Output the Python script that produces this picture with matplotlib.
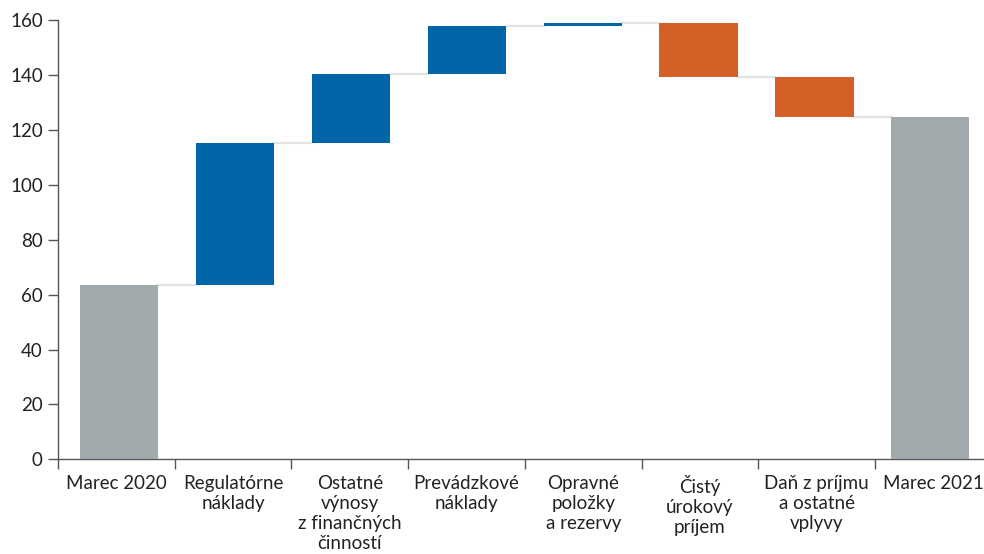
import numpy as np
import matplotlib.pyplot as plt
from matplotlib.ticker import FixedLocator

plt.rcParams['font.family'] = ['Lato', 'DejaVu Sans']

# Kategórie a zmeny
categories = ['Marec 2020', 'Regulatórne\nnáklady', 'Ostatné\nvýnosy\nz finančných\nčinností',
              'Prevádzkové\nnáklady', 'Opravné\npoložky\na rezervy', 'Čistý\núrokový\npríjem',
              'Daň z príjmu\na ostatné\nvplyvy', 'Marec 2021']
start_value = 63.4
deltas = [51.7, 25.2, 17.5, 1.1, -19.7, -14.6]

GRAY = '#a2a9ad'
BLUE = '#0066a8'
ORANGE = '#d36027'
CONN = '#e2e2e2'

# kumulatívne úrovne
levels = [start_value]
for d in deltas:
    levels.append(levels[-1] + d)
end_value = levels[-1]

bottoms, heights, colors = [0], [start_value], [GRAY]
for i, d in enumerate(deltas):
    bottoms.append(min(levels[i], levels[i + 1]))
    heights.append(abs(d))
    colors.append(BLUE if d > 0 else ORANGE)
bottoms.append(0)
heights.append(end_value)
colors.append(GRAY)

fig = plt.figure(figsize=(9.84, 5.54), dpi=100)
ax = fig.add_axes([58 / 984, 94.7 / 554, (991.7 - 58) / 984, 439 / 554])

x = np.arange(len(categories)) * 0.993 + 0.023
w = 0.67
ax.bar(x, heights, bottom=bottoms, width=w, color=colors, zorder=3)

# spojovacie čiary medzi stĺpcami
for i, lvl in enumerate(levels):
    ax.plot([x[i] + w / 2, x[i + 1] - w / 2], [lvl, lvl], color=CONN, lw=1.6, zorder=2)

ax.set_xlim(-0.5, len(categories) - 0.5)
ax.set_ylim(0, 160)
ax.set_yticks(np.arange(0, 161, 20))

ax.xaxis.set_major_locator(FixedLocator(np.arange(-0.5, len(categories), 1.0)))
ax.xaxis.set_major_formatter(plt.NullFormatter())
ax.xaxis.set_minor_locator(FixedLocator(np.arange(len(categories))))
ax.set_xticklabels(categories, minor=True, fontsize=13.5, color='#222222', linespacing=1.22)
ax.tick_params(axis='x', which='minor', length=0, pad=11)
ax.tick_params(axis='x', which='major', length=7, width=1, color='#555555', direction='out')
ax.tick_params(axis='y', length=7, width=1, color='#555555', labelsize=13.5,
               labelcolor='#222222', pad=4)

for s in ['top', 'right']:
    ax.spines[s].set_visible(False)
for s in ['left', 'bottom']:
    ax.spines[s].set_color('#555555')
    ax.spines[s].set_linewidth(1)

fig.savefig('out.png', dpi=100)
